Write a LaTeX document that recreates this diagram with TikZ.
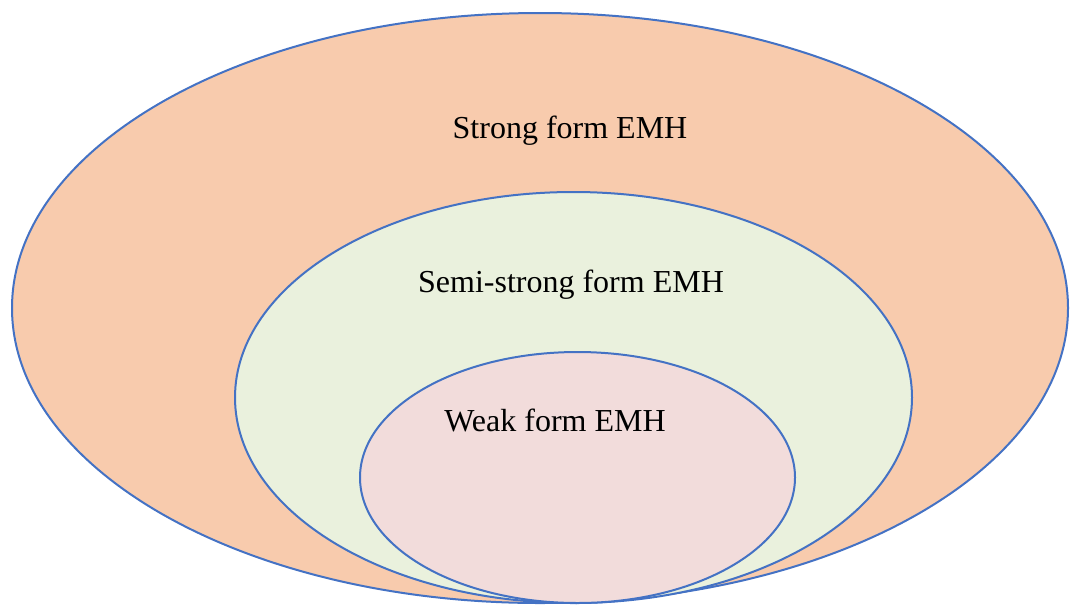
\documentclass[tikz,border=0pt]{standalone}
\usepackage{fontspec}
\setmainfont{Liberation Serif}
\usepackage{tikz}
\usetikzlibrary{shapes.geometric}
\definecolor{ringblue}{RGB}{68,114,196}
\definecolor{strongfill}{RGB}{248,203,173}
\definecolor{semifill}{RGB}{234,241,221}
\definecolor{weakfill}{RGB}{242,220,219}
\tikzset{
  ring/.style={
    ellipse,
    draw=ringblue,
    line width=2pt,
    inner sep=0pt
  },
  lbl/.style={
    font=\fontsize{32}{36}\selectfont,
    text=black,
    inner sep=0pt
  }
}

\begin{document}
\begin{tikzpicture}[x=1pt,y=-1pt]
\useasboundingbox (0,0) rectangle (1070,606);
% nested forms
\node[ring, fill=strongfill, minimum width=1056, minimum height=590] (strong) at (540,308) {};
\node[ring, fill=semifill, minimum width=677, minimum height=411] (semi) at (573.5,397.5) {};
\node[ring, fill=weakfill, minimum width=435, minimum height=251] (weak) at (577.5,477.5) {};
% labels
\node[lbl] (strongtxt) at (570,131) {Strong form EMH};
\node[lbl] (semitxt) at (571,285) {Semi-strong form EMH};
\node[lbl] (weaktxt) at (555,420) {Weak form EMH};
\end{tikzpicture}
\end{document}
